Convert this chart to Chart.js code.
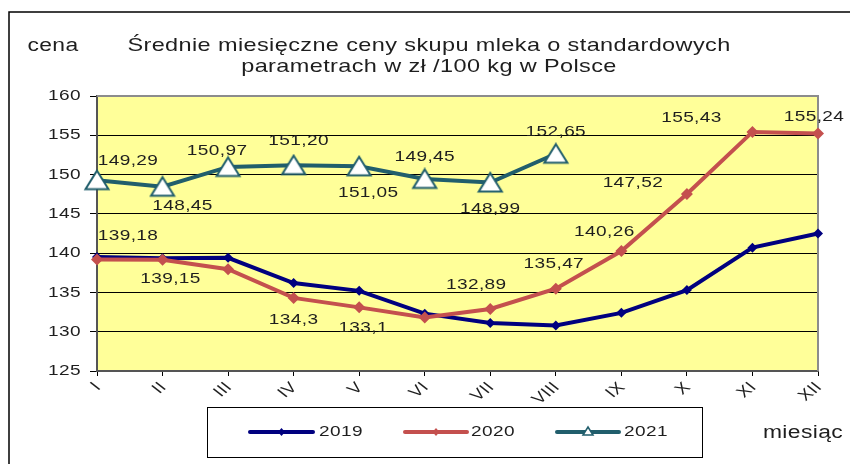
<!DOCTYPE html>
<html>
<head>
<meta charset="utf-8">
<script src="https://cdn.jsdelivr.net/npm/chart.js@4.4.1/dist/chart.umd.min.js"></script>
<style>
  html, body { margin: 0; padding: 0; background: #fff; }
  #wrap { width: 850px; height: 464px; position: relative; }
</style>
</head>
<body>
<div id="wrap"><canvas id="milkChart"></canvas></div>
<script>
// Months (roman numerals)
const months = ["I", "II", "III", "IV", "V", "VI", "VII", "VIII", "IX", "X", "XI", "XII"];

// Prices in zł / 100 kg
const prices2019 = [139.5, 139.35, 139.4, 136.2, 135.2, 132.3, 131.1, 130.8, 132.4, 135.3, 140.7, 142.5];
const prices2020 = [139.18, 139.15, 137.95, 134.3, 133.1, 131.8, 132.89, 135.47, 140.26, 147.52, 155.43, 155.24];
const prices2021 = [149.29, 148.45, 150.97, 151.20, 151.05, 149.45, 148.99, 152.65, null, null, null, null];

// Value labels printed on the chart
const labels2020 = ["139,18", "139,15", null, "134,3", "133,1", null, "132,89", "135,47", "140,26", "147,52", "155,43", "155,24"];
const labels2021 = ["149,29", "148,45", "150,97", "151,20", "151,05", "149,45", "148,99", "152,65", null, null, null, null];

// Y axis
const yMin = 125;
const yMax = 160;
const yStep = 5;

// label offsets from their points (dx, dy)
const offsets2020 = [[31, -24], [8, 19], null, [0, 22], [4, 21], null, [-14, -24], [-2, -25], [-17, -19], [-54, -11], [-61, -14], [-4, -17]];
const offsets2021 = [[31, -19], [20, 19], [-11, -16], [5, -24], [9, 27], [0, -22], [0, 26], [0, -22], null, null, null, null];

const FONT = "'Liberation Sans', Arial, sans-serif";
const TEXT = "#1e1e1e";
const STRETCH = 1.27;   // the original picture is drawn wide

const colors = {
    c2019: "#00007f",
    c2020: "#c4504e",
    c2021: "#215e6c"
};

// draws text widened horizontally
function wideText(ctx, text, x, y, align) {
    ctx.save();
    ctx.translate(x, y);
    ctx.scale(STRETCH, 1);
    ctx.textAlign = align || "center";
    ctx.letterSpacing = "0.3px";
    ctx.fillText(text, 0, 0);
    ctx.restore();
}

// hollow triangle, a bit wider than tall
function triangleMarker() {
    const c = document.createElement("canvas");
    c.width = 28;
    c.height = 23;
    const g = c.getContext("2d");
    g.beginPath();
    g.moveTo(14, 2);
    g.lineTo(25.5, 20.5);
    g.lineTo(2.5, 20.5);
    g.closePath();
    g.fillStyle = "#ffffff";
    g.fill();
    g.strokeStyle = colors.c2021;
    g.lineWidth = 2;
    g.stroke();
    return c;
}

const legendMarks = ["diamond", "diamond", "triangle"];

const decorPlugin = {
    id: "decor",
    beforeDraw(chart) {
        const ctx = chart.ctx;
        const a = chart.chartArea;
        ctx.save();
        ctx.fillStyle = "#ffff99";
        ctx.fillRect(a.left, a.top, a.right - a.left, a.bottom - a.top);
        ctx.restore();
    },
    beforeDatasetsDraw(chart) {
        const ctx = chart.ctx;
        const a = chart.chartArea;
        ctx.save();
        ctx.strokeStyle = "#8c8c8c";
        ctx.lineWidth = 2;
        ctx.beginPath();
        ctx.moveTo(a.left, a.top);
        ctx.lineTo(a.right, a.top);
        ctx.lineTo(a.right, a.bottom);
        ctx.stroke();
        ctx.restore();
    },
    afterDatasetsDraw(chart) {
        const ctx = chart.ctx;
        ctx.save();
        ctx.font = "15px " + FONT;
        ctx.fillStyle = TEXT;
        ctx.textBaseline = "middle";

        const sets = [
            [1, labels2020, offsets2020],
            [2, labels2021, offsets2021]
        ];
        sets.forEach(([idx, texts, offs]) => {
            const meta = chart.getDatasetMeta(idx);
            texts.forEach((t, j) => {
                if (!t) return;
                const pt = meta.data[j];
                wideText(ctx, t, pt.x + offs[j][0], pt.y + offs[j][1], "center");
            });
        });
        ctx.restore();
    },
    afterDraw(chart) {
        const ctx = chart.ctx;
        ctx.save();

        // outer frame
        ctx.strokeStyle = "#000";
        ctx.lineWidth = 1.5;
        ctx.strokeRect(9, 12, 900, 500);

        ctx.fillStyle = TEXT;
        ctx.textBaseline = "middle";

        // axis tick labels, wide like the rest
        ctx.font = "15px " + FONT;
        const xs = chart.scales.x;
        xs.ticks.forEach((t, i) => {
            ctx.save();
            ctx.translate(xs.getPixelForTick(i) + 1, 385);
            ctx.scale(STRETCH, 1);
            ctx.rotate(-Math.PI / 4);
            ctx.textAlign = "right";
            ctx.letterSpacing = "0.3px";
            ctx.fillText(t.label, 0, 0);
            ctx.restore();
        });
        const ys = chart.scales.y;
        ys.ticks.forEach((t, i) => {
            wideText(ctx, t.label, 81, ys.getPixelForTick(i), "right");
        });

        // title
        ctx.font = "18.5px " + FONT;
        wideText(ctx, "Średnie miesięczne ceny skupu mleka o standardowych", 429, 46, "center");
        wideText(ctx, "parametrach w zł /100 kg w Polsce", 429, 67, "center");

        ctx.font = "18px " + FONT;
        wideText(ctx, "cena", 53, 46, "center");
        wideText(ctx, "miesiąc", 803, 433, "center");

        // legend
        ctx.lineWidth = 1;
        ctx.strokeStyle = "#000";
        ctx.strokeRect(207.5, 407.5, 495, 50);

        const legendItems = [
            { ds: 0, x0: 250, x1: 313, tx: 319 },
            { ds: 1, x0: 405, x1: 467, tx: 471 },
            { ds: 2, x0: 557, x1: 619, tx: 624 }
        ];
        const ly = 432;
        legendItems.forEach(item => {
            const ds = chart.data.datasets[item.ds];
            ctx.strokeStyle = ds.borderColor;
            ctx.lineWidth = 4;
            ctx.lineCap = "round";
            ctx.beginPath();
            ctx.moveTo(item.x0, ly);
            ctx.lineTo(item.x1, ly);
            ctx.stroke();
            const mx = (item.x0 + item.x1) / 2;
            if (legendMarks[item.ds] === "triangle") {
                ctx.lineWidth = 1.5;
                ctx.fillStyle = "#fff";
                ctx.beginPath();
                ctx.moveTo(mx, ly - 5);
                ctx.lineTo(mx + 5, ly + 3);
                ctx.lineTo(mx - 5, ly + 3);
                ctx.closePath();
                ctx.fill();
                ctx.stroke();
            } else {
                ctx.fillStyle = ds.borderColor;
                ctx.beginPath();
                ctx.moveTo(mx, ly - 4);
                ctx.lineTo(mx + 3.5, ly);
                ctx.lineTo(mx, ly + 4);
                ctx.lineTo(mx - 3.5, ly);
                ctx.closePath();
                ctx.fill();
            }
            ctx.fillStyle = TEXT;
            ctx.font = "15px " + FONT;
            wideText(ctx, ds.label, item.tx, ly, "left");
        });

        ctx.restore();
    }
};

new Chart(document.getElementById("milkChart"), {
    type: "line",
    data: {
        labels: months,
        datasets: [
            {
                label: "2019",
                data: prices2019,
                borderColor: colors.c2019,
                backgroundColor: colors.c2019,
                borderWidth: 4,
                pointStyle: "rectRot",
                pointRadius: 5,
                pointBackgroundColor: colors.c2019,
                pointBorderWidth: 0,
                tension: 0,
                order: 3
            },
            {
                label: "2020",
                data: prices2020,
                borderColor: colors.c2020,
                backgroundColor: colors.c2020,
                borderWidth: 4,
                pointStyle: "rectRot",
                pointRadius: 6,
                pointBackgroundColor: colors.c2020,
                pointBorderWidth: 0,
                tension: 0,
                order: 2
            },
            {
                label: "2021",
                data: prices2021,
                borderColor: colors.c2021,
                backgroundColor: "#ffffff",
                borderWidth: 4,
                pointStyle: triangleMarker(),
                pointRadius: 12,
                tension: 0,
                spanGaps: false,
                order: 1
            }
        ]
    },
    options: {
        responsive: true,
        maintainAspectRatio: false,
        animation: false,
        layout: {
            padding: { top: 96, right: 32, bottom: 0, left: 0 }
        },
        plugins: {
            legend: { display: false },
            title: { display: false },
            tooltip: { enabled: false }
        },
        scales: {
            x: {
                offset: false,
                afterFit(scale) { scale.height = 93; },
                grid: {
                    drawOnChartArea: false,
                    drawTicks: true,
                    tickLength: 5,
                    tickColor: "#000"
                },
                border: { color: "#555", width: 2 },
                ticks: {
                    display: false,
                    autoSkip: false
                }
            },
            y: {
                min: yMin,
                max: yMax,
                afterFit(scale) { scale.width = 97; },
                grid: {
                    color: c => c.tick && c.tick.value === yMax ? "rgba(0,0,0,0)" : "#000",
                    lineWidth: 1,
                    drawTicks: true,
                    tickLength: 7,
                    tickColor: "#000"
                },
                border: { color: "#555", width: 2 },
                ticks: {
                    display: false,
                    stepSize: yStep
                }
            }
        }
    },
    plugins: [decorPlugin]
});
</script>
</body>
</html>
